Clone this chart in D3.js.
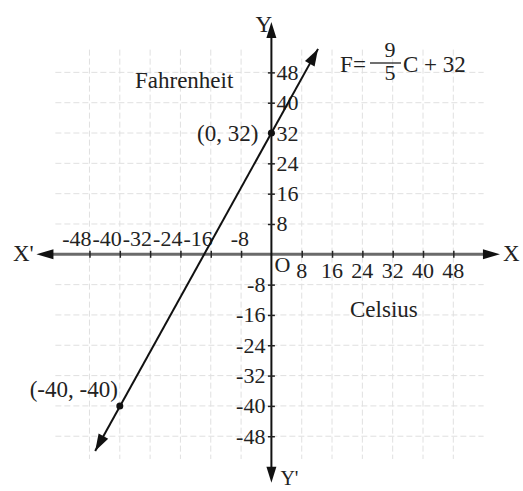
<!DOCTYPE html>
<html>
<head>
<meta charset="utf-8">
<script src="https://cdn.jsdelivr.net/npm/d3@7"></script>
<style>
  html, body { margin: 0; padding: 0; background: #fff; }
  svg { display: block; }
  text { font-family: "Liberation Serif", "DejaVu Serif", serif; fill: #222; }
</style>
</head>
<body>
<svg id="chart" width="523" height="491"></svg>
<script>
'use strict';

// tick values on both axes
var xTicks = [-48, -40, -32, -24, -16, -8, 8, 16, 24, 32, 40, 48],
    yTicks = [-48, -40, -32, -24, -16, -8, 8, 16, 24, 32, 40, 48];

// line ends (Celsius, Fahrenheit)
var lineC = [-46.5, 12.3],
    lineF = [-51.9, 54.2];

// marked points
var pointC = [0, -40],
    pointF = [32, -40],
    pointLabels = ['(0, 32)', '(-40, -40)'];

var svg = d3.select('#chart'),
    k = 3.79,
    x0 = 271.4,
    y0 = 254.3,
    x, y;

x = d3.scaleLinear().domain([-60, 60]).range([x0 - 60 * k, x0 + 60 * k]);
y = d3.scaleLinear().domain([-60, 60]).range([y0 + 60 * k, y0 - 60 * k]);

var arrowHead = function (tx, ty, angle, len, hw) {
  var ca = Math.cos(angle), sa = Math.sin(angle),
      bx = tx - len * ca, by = ty - len * sa;
  return 'M' + tx + ',' + ty +
      'L' + (bx - hw * sa) + ',' + (by + hw * ca) +
      'L' + (bx + hw * sa) + ',' + (by - hw * ca) + 'Z';
};

// grid
var grid = svg.append('g')
    .attr('stroke', '#c8c8c8')
    .attr('stroke-width', 1)
    .attr('stroke-dasharray', '6,3')
    .attr('opacity', 0.55);

grid.selectAll('line.v').data(xTicks).enter().append('line')
    .attr('class', 'v')
    .attr('x1', function (d) { return x(d); })
    .attr('x2', function (d) { return x(d); })
    .attr('y1', y(54))
    .attr('y2', y(-54));

grid.selectAll('line.h').data(yTicks).enter().append('line')
    .attr('class', 'h')
    .attr('y1', function (d) { return y(d); })
    .attr('y2', function (d) { return y(d); })
    .attr('x1', x(-57))
    .attr('x2', x(56));

// x axis (thick grey) and y axis (black)
svg.append('line')
    .attr('x1', x(-60)).attr('x2', x(56))
    .attr('y1', y0).attr('y2', y0)
    .attr('stroke', '#6a6a6a').attr('stroke-width', 3);
svg.append('path').attr('d', arrowHead(x(-62), y0, Math.PI, 17, 5)).attr('fill', '#111');
svg.append('path').attr('d', arrowHead(x(60.3), y0, 0, 17, 5)).attr('fill', '#111');

svg.append('line')
    .attr('x1', x0).attr('x2', x0)
    .attr('y1', y(58)).attr('y2', y(-57))
    .attr('stroke', '#111').attr('stroke-width', 2);
svg.append('path').attr('d', arrowHead(x0, y(61.3), -Math.PI / 2, 16, 5)).attr('fill', '#111');
svg.append('path').attr('d', arrowHead(x0, y(-60.3), Math.PI / 2, 16, 5)).attr('fill', '#111');

// tick marks through d3 axes
var xAxis = svg.append('g')
    .attr('transform', 'translate(0,' + (y0 - 3.5) + ')')
    .call(d3.axisBottom(x).tickValues(xTicks).tickSize(7).tickFormat(''));
var yAxis = svg.append('g')
    .attr('transform', 'translate(' + (x0 + 3.5) + ',0)')
    .call(d3.axisLeft(y).tickValues(yTicks).tickSize(7).tickFormat(''));
[xAxis, yAxis].forEach(function (g) {
  g.select('.domain').remove();
  g.selectAll('.tick line').attr('stroke', '#222').attr('stroke-width', 1.5);
});

// tick labels
var tickFont = 22;
svg.append('g').selectAll('text').data(xTicks).enter().append('text')
    .attr('font-size', tickFont)
    .attr('text-anchor', function (d) { return d < 0 ? 'end' : 'middle'; })
    .attr('x', function (d) { return d < 0 ? x(d) + (d === -8 ? 8 : 2) : x(d); })
    .attr('y', function (d) { return d < 0 ? y0 - 8 : y0 + 24; })
    .text(function (d) { return d; });

svg.append('g').selectAll('text').data(yTicks).enter().append('text')
    .attr('font-size', tickFont)
    .attr('text-anchor', function (d) { return d < 0 ? 'end' : 'start'; })
    .attr('x', function (d) { return d < 0 ? x0 - 6 : x0 + 5; })
    .attr('y', function (d) { return y(d) + 7.5; })
    .text(function (d) { return d; });

// the line F = 9/5 C + 32
var ang = Math.atan2(y(lineF[1]) - y(lineF[0]), x(lineC[1]) - x(lineC[0]));
svg.append('line')
    .attr('x1', x(lineC[0])).attr('y1', y(lineF[0]))
    .attr('x2', x(lineC[1])).attr('y2', y(lineF[1]))
    .attr('stroke', '#111').attr('stroke-width', 2);
svg.append('path').attr('d', arrowHead(x(lineC[1]), y(lineF[1]), ang, 17, 5.5)).attr('fill', '#111');
svg.append('path').attr('d', arrowHead(x(lineC[0]), y(lineF[0]), ang + Math.PI, 17, 5.5)).attr('fill', '#111');

// marked points
svg.selectAll('circle.pt').data(pointC).enter().append('circle')
    .attr('class', 'pt')
    .attr('cx', function (d) { return x(d); })
    .attr('cy', function (d, i) { return y(pointF[i]); })
    .attr('r', 3.5)
    .attr('fill', '#111');

svg.selectAll('text.pt').data(pointLabels).enter().append('text')
    .attr('class', 'pt')
    .attr('font-size', 23)
    .attr('text-anchor', 'end')
    .attr('x', function (d, i) { return x(pointC[i]) + (i === 0 ? -13 : -2); })
    .attr('y', function (d, i) { return y(pointF[i]) + (i === 0 ? 8 : -9); })
    .text(function (d) { return d; });

// axis names and labels
var label = function (txt, px, py, size, anchor) {
  return svg.append('text')
      .attr('x', px).attr('y', py)
      .attr('font-size', size || 23)
      .attr('text-anchor', anchor || 'start')
      .text(txt);
};

label('Y', x0 - 16, 32);
label("Y'", x0 + 9, 485, 20);
label("X'", 13, y0 + 7);
label('X', 503, y0 + 7);
label('O', x0 + 3, y0 + 18, 22);
label('Fahrenheit', 135, 88);
label('Celsius', 350, 317);

// formula F = 9/5 C + 32
label('F', 340, 72);
label('=', 353, 72);
label('9', 390, 57, 22, 'middle');
label('5', 390, 80, 22, 'middle');
svg.append('line')
    .attr('x1', 370).attr('x2', 401)
    .attr('y1', 63).attr('y2', 63)
    .attr('stroke', '#222').attr('stroke-width', 1.3);
label('C + 32', 403, 72);
</script>
</body>
</html>
